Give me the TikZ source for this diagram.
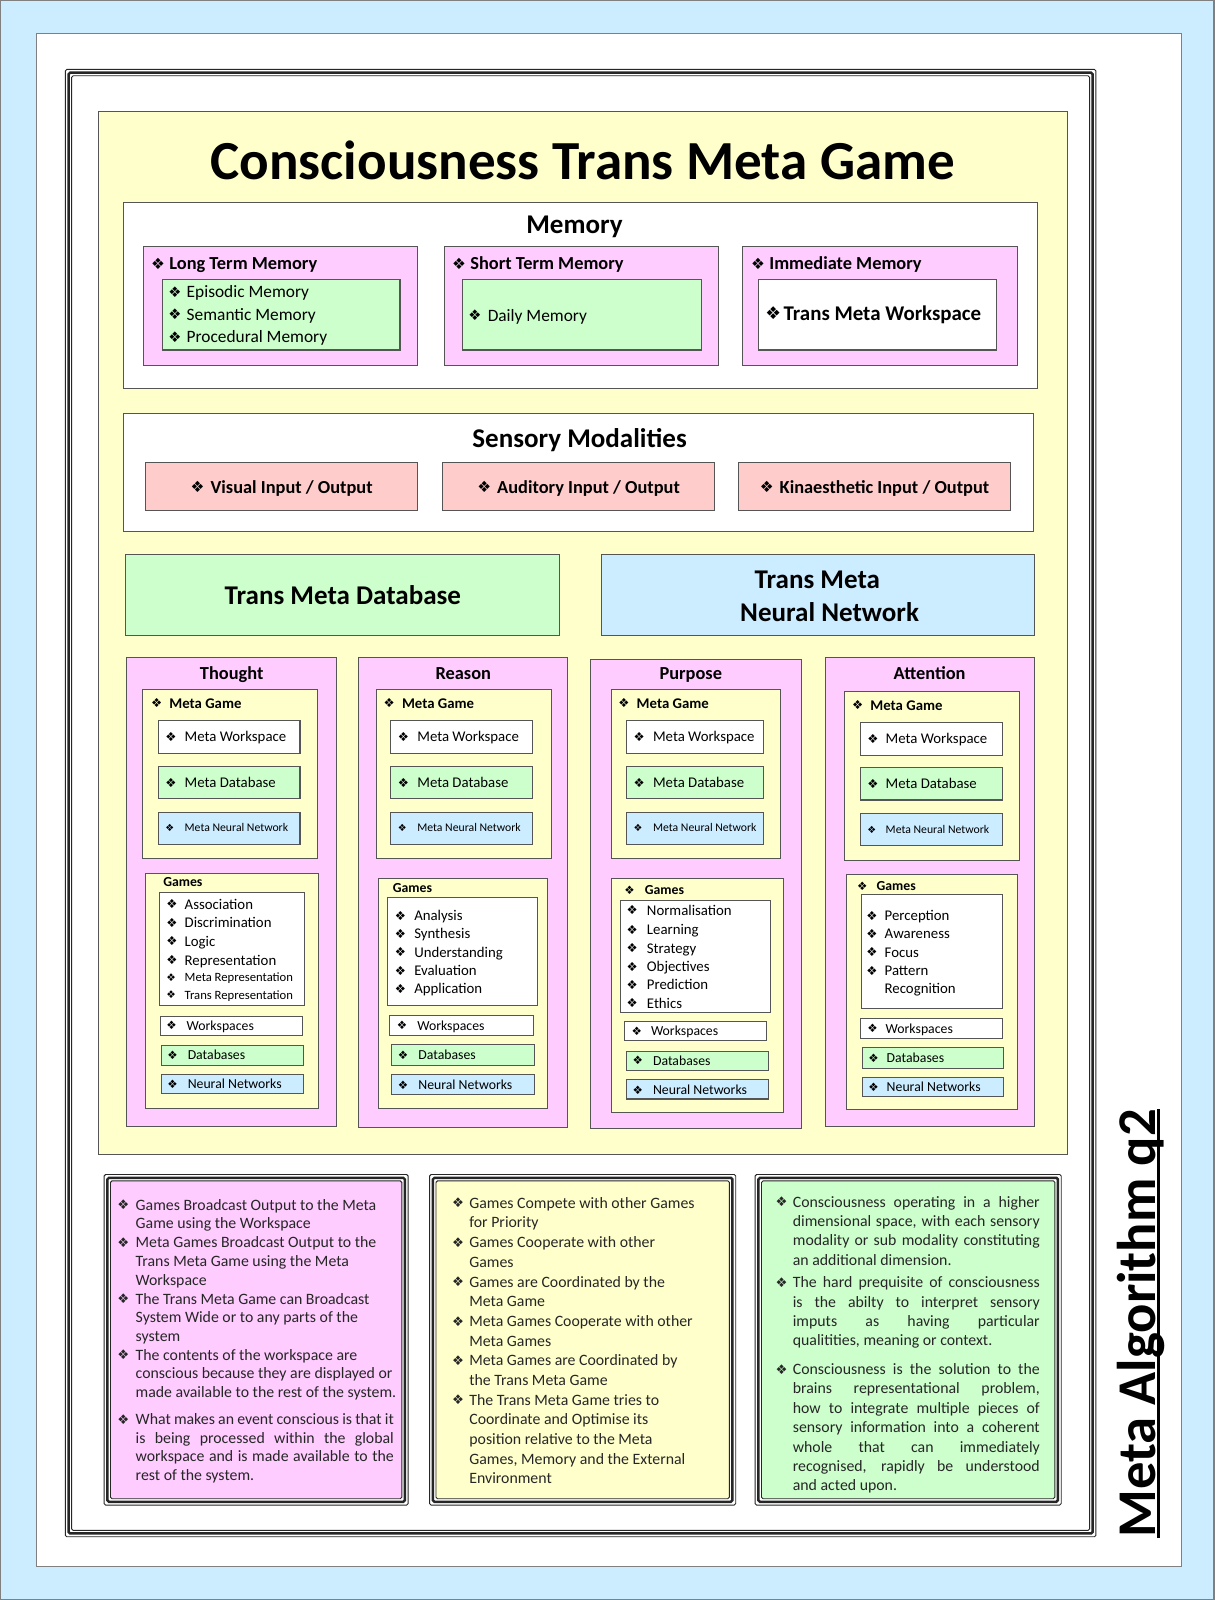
\documentclass[tikz,border=0pt]{standalone}
\usepackage{fontspec}
\usepackage{graphicx}
\setmainfont{Carlito}
\newfontfamily\djv{DejaVu Sans}
\definecolor{cblue}{HTML}{CCECFF}
\definecolor{cpink}{HTML}{FFCCFF}
\definecolor{cyel}{HTML}{FFFFCC}
\definecolor{cgreen}{HTML}{CCFFCC}
\definecolor{csalm}{HTML}{FFCCCC}
\definecolor{bordc}{HTML}{555555}
\definecolor{txtc}{HTML}{262626}
\newcommand\bul{{\djv\raisebox{0.03em}{\scalebox{0.84}{❖}}}}
\newcommand\Jp[1]{\makebox[253pt][s]{#1}}
\newcommand\Jg[1]{\makebox[242pt][s]{#1}}
\tikzset{
  bx/.style={draw=bordc,line width=1pt,inner sep=0pt,outer sep=0pt},
  txt/.style={inner sep=0pt,outer sep=0pt,text=black},
  frm/.style={draw=black!85,inner sep=0pt,outer sep=0pt,rounded corners=1.5pt},
  btxt/.style={inner sep=0pt,outer sep=0pt,text=txtc,align=left}
}
% box: name x1 y1 x2 y2 style
\newcommand\bx[6]{\node[bx,#6,minimum width={#4pt-#2pt},minimum height={#5pt-#3pt}] (#1) at ({(#2+#4)/2},{(#3+#5)/2}) {};}
% left text: name x y size series text
\newcommand\tl[6]{\node[txt,anchor=base west,font=\fontsize{#4}{#4}\selectfont#5] (#1) at (#2,{#3+0.35*#4}) {#6};}
% centred text
\newcommand\tc[6]{\node[txt,anchor=base,font=\fontsize{#4}{#4}\selectfont#5] (#1) at (#2,{#3+0.35*#4}) {#6};}
% bullet item: name xbullet xtext y size series text
\newcommand\li[7]{\node[txt,anchor=base west,font=\fontsize{#5}{#5}\selectfont#6] (#1) at (#2,{#4+0.35*#5}) {\makebox[\dimexpr#3pt-#2pt\relax][l]{\bul}#7};}
% bottom item: name xbullet xtext ybase font width lines
\newcommand\bi[7]{\node[btxt,anchor=base west,font=#5] (#1) at (#2,#4) {\makebox[\dimexpr#3pt-#2pt\relax][l]{\bul}\parbox[t]{#6pt}{\raggedright #7}};}
% triple frame: name x1 y1 x2 y2 fill
\newcommand\tfr[6]{%
 \node[frm,line width=0.9pt,minimum width={#4pt-#2pt},minimum height={#5pt-#3pt}] (#1a) at ({(#2+#4)/2},{(#3+#5)/2}) {};
 \node[frm,line width=2.4pt,minimum width={#4pt-#2pt-6.5pt},minimum height={#5pt-#3pt-6.5pt}] (#1b) at (#1a.center) {};
 \node[frm,line width=0.9pt,fill=#6,minimum width={#4pt-#2pt-12.5pt},minimum height={#5pt-#3pt-12.5pt}] (#1) at (#1a.center) {};}
\begin{document}
\begin{tikzpicture}[x=1pt,y=-1pt]
\useasboundingbox (0,0) rectangle (1190,1568);
\bx{page}{0}{0}{1190}{1568}{fill=cblue,draw=gray,line width=2pt}
\bx{wpage}{36}{33}{1158}{1535}{fill=white,draw=gray,line width=1pt}
\tfr{outer}{64}{68}{1074}{1506}{white}
\bx{main}{97}{109}{1046}{1131}{fill=cyel}
\tc{title}{571}{157}{54}{\bfseries}{Consciousness Trans Meta Game}
% Memory
\bx{mem}{121}{198}{1017}{381}{fill=white}
\tc{memt}{563}{220}{26.5}{\bfseries}{Memory}
\bx{ltm}{141}{242}{409}{358}{fill=cpink}
\li{ltmt}{148}{166}{258}{18}{\bfseries}{Long Term Memory}
\bx{ltmi}{159}{274}{392}{343}{fill=cgreen}
\li{ltm1}{165}{183}{286}{17}{\relax}{Episodic Memory}
\li{ltm2}{165}{183}{308}{17}{\relax}{Semantic Memory}
\li{ltm3}{165}{183}{330}{17}{\relax}{Procedural Memory}
\bx{stm}{436}{242}{704}{358}{fill=cpink}
\li{stmt}{443}{461}{258}{18}{\bfseries}{Short Term Memory}
\bx{stmi}{453}{274}{687}{343}{fill=cgreen}
\li{stm1}{459}{478}{309}{17}{\relax}{Daily Memory}
\bx{imm}{728}{242}{997}{358}{fill=cpink}
\li{immt}{736}{754}{258}{18}{\bfseries}{Immediate Memory}
\bx{immi}{743}{274}{977}{343}{fill=white}
\li{imm1}{750}{768}{307}{20.5}{\bfseries}{Trans Meta Workspace}
% Sensory
\bx{sens}{121}{405}{1013}{521}{fill=white}
\tc{senst}{568}{429}{26.5}{\bfseries}{Sensory Modalities}
\bx{vis}{143}{453}{409}{500}{fill=csalm}
\tc{vist}{276}{477}{18}{\bfseries}{\bul\hspace{6pt}Visual Input / Output}
\bx{aud}{434}{453}{700}{500}{fill=csalm}
\tc{audt}{567}{477}{18}{\bfseries}{\bul\hspace{6pt}Auditory Input / Output}
\bx{kin}{724}{453}{990}{500}{fill=csalm}
\tc{kint}{857}{477}{18}{\bfseries}{\bul\hspace{6pt}Kinaesthetic Input / Output}
% Database / NN
\bx{tmdb}{123}{543}{548}{623}{fill=cgreen}
\tc{tmdbt}{336}{583}{26.5}{\bfseries}{Trans Meta Database}
\bx{tmnn}{589}{543}{1014}{623}{fill=cblue}
\tc{tmnn1}{801}{567}{26.5}{\bfseries}{Trans Meta}
\tc{tmnn2}{813}{600}{26.5}{\bfseries}{Neural Network}
% ---------- Thought
\bx{th}{124}{644}{330}{1104}{fill=cpink}
\tc{tht}{227}{660}{18}{\bfseries}{Thought}
\bx{thmg}{140}{676}{311}{841}{fill=cyel}
\li{thmgt}{148}{166}{689}{14.5}{\bfseries}{Meta Game}
\bx{thmw}{155}{706}{294}{738}{fill=white}
\li{thmwt}{162}{181}{722}{14.5}{\relax}{Meta Workspace}
\bx{thmd}{155}{751}{294}{783}{fill=cgreen}
\li{thmdt}{162}{181}{767}{14.5}{\relax}{Meta Database}
\bx{thmn}{155}{796}{294}{828}{fill=cblue}
\li{thmnt}{162}{181}{811}{11.5}{\relax}{Meta Neural Network}
\bx{thg}{143}{856}{312}{1086}{fill=cyel}
\tl{thgt}{160}{864}{13.5}{\bfseries}{Games}
\bx{thl}{156}{875}{298}{985}{fill=white}
\li{thl1}{163}{181}{886}{14.5}{\relax}{Association}
\li{thl2}{163}{181}{904}{14.5}{\relax}{Discrimination}
\li{thl3}{163}{181}{922}{14.5}{\relax}{Logic}
\li{thl4}{163}{181}{941}{14.5}{\relax}{Representation}
\li{thl5}{163}{181}{958}{12.4}{\relax}{Meta Representation}
\li{thl6}{163}{181}{975}{12.4}{\relax}{Trans Representation}
\bx{thws}{157}{996}{296}{1015}{fill=white}
\li{thwst}{163}{183}{1005}{13.5}{\relax}{Workspaces}
\bx{thdb}{158}{1025}{297}{1044}{fill=cgreen}
\li{thdbt}{164}{184}{1034}{13.5}{\relax}{Databases}
\bx{thnn}{158}{1053}{297}{1072}{fill=cblue}
\li{thnnt}{164}{184}{1062}{13.5}{\relax}{Neural Networks}
% ---------- Reason
\bx{re}{351}{644}{556}{1105}{fill=cpink}
\tc{ret}{454}{660}{18}{\bfseries}{Reason}
\bx{remg}{369}{676}{540}{841}{fill=cyel}
\li{remgt}{376}{394}{689}{14.5}{\bfseries}{Meta Game}
\bx{remw}{383}{706}{522}{738}{fill=white}
\li{remwt}{390}{409}{722}{14.5}{\relax}{Meta Workspace}
\bx{remd}{383}{751}{522}{783}{fill=cgreen}
\li{remdt}{390}{409}{767}{14.5}{\relax}{Meta Database}
\bx{remn}{383}{796}{522}{828}{fill=cblue}
\li{remnt}{390}{409}{811}{11.5}{\relax}{Meta Neural Network}
\bx{reg}{371}{861}{537}{1086}{fill=cyel}
\tl{regt}{385}{870}{13.5}{\bfseries}{Games}
\bx{rel}{380}{880}{527}{985}{fill=white}
\li{rel1}{387}{406}{897}{14.5}{\relax}{Analysis}
\li{rel2}{387}{406}{915}{14.5}{\relax}{Synthesis}
\li{rel3}{387}{406}{933}{14.5}{\relax}{Understanding}
\li{rel4}{387}{406}{951}{14.5}{\relax}{Evaluation}
\li{rel5}{387}{406}{969}{14.5}{\relax}{Application}
\bx{rews}{382}{995}{523}{1015}{fill=white}
\li{rewst}{389}{409}{1005}{13.5}{\relax}{Workspaces}
\bx{redb}{384}{1024}{524}{1044}{fill=cgreen}
\li{redbt}{390}{410}{1034}{13.5}{\relax}{Databases}
\bx{renn}{384}{1053}{524}{1073}{fill=cblue}
\li{rennt}{390}{410}{1063}{13.5}{\relax}{Neural Networks}
% ---------- Purpose
\bx{pu}{579}{646}{785}{1106}{fill=cpink}
\tc{put}{677}{660}{18}{\bfseries}{Purpose}
\bx{pumg}{599}{676}{765}{841}{fill=cyel}
\li{pumgt}{606}{624}{689}{14.5}{\bfseries}{Meta Game}
\bx{pumw}{614}{706}{748}{738}{fill=white}
\li{pumwt}{621}{640}{722}{14.5}{\relax}{Meta Workspace}
\bx{pumd}{614}{751}{748}{783}{fill=cgreen}
\li{pumdt}{621}{640}{767}{14.5}{\relax}{Meta Database}
\bx{pumn}{614}{796}{748}{828}{fill=cblue}
\li{pumnt}{621}{640}{811}{11.5}{\relax}{Meta Neural Network}
\bx{pug}{599}{861}{768}{1090}{fill=cyel}
\li{pugt}{612}{632}{872}{13.5}{\bfseries}{Games}
\bx{pul}{608}{882}{755}{992}{fill=white}
\li{pul1}{614}{634}{892}{14.5}{\relax}{Normalisation}
\li{pul2}{614}{634}{911}{14.5}{\relax}{Learning}
\li{pul3}{614}{634}{929}{14.5}{\relax}{Strategy}
\li{pul4}{614}{634}{947}{14.5}{\relax}{Objectives}
\li{pul5}{614}{634}{965}{14.5}{\relax}{Prediction}
\li{pul6}{614}{634}{983}{14.5}{\relax}{Ethics}
\bx{puws}{612}{1001}{751}{1020}{fill=white}
\li{puwst}{619}{638}{1010}{13.5}{\relax}{Workspaces}
\bx{pudb}{614}{1030}{753}{1049}{fill=cgreen}
\li{pudbt}{620}{640}{1039}{13.5}{\relax}{Databases}
\bx{punn}{614}{1058}{753}{1077}{fill=cblue}
\li{punnt}{620}{640}{1068}{13.5}{\relax}{Neural Networks}
% ---------- Attention
\bx{at}{809}{644}{1014}{1104}{fill=cpink}
\tc{att}{911}{660}{18}{\bfseries}{Attention}
\bx{atmg}{828}{678}{999}{843}{fill=cyel}
\li{atmgt}{835}{853}{691}{14.5}{\bfseries}{Meta Game}
\bx{atmw}{843}{708}{982}{740}{fill=white}
\li{atmwt}{850}{868}{724}{14.5}{\relax}{Meta Workspace}
\bx{atmd}{843}{752}{982}{784}{fill=cgreen}
\li{atmdt}{850}{868}{768}{14.5}{\relax}{Meta Database}
\bx{atmn}{843}{797}{982}{829}{fill=cblue}
\li{atmnt}{850}{868}{813}{11.5}{\relax}{Meta Neural Network}
\bx{atg}{830}{857}{997}{1087}{fill=cyel}
\li{atgt}{840}{859}{868}{13.5}{\bfseries}{Games}
\bx{atl}{844}{877}{982}{988}{fill=white}
\li{atl1}{849}{867}{897}{14.5}{\relax}{Perception}
\li{atl2}{849}{867}{915}{14.5}{\relax}{Awareness}
\li{atl3}{849}{867}{933}{14.5}{\relax}{Focus}
\li{atl4}{849}{867}{951}{14.5}{\relax}{Pattern}
\tl{atl5}{867}{969}{14.5}{\relax}{Recognition}
\bx{atws}{843}{998}{982}{1018}{fill=white}
\li{atwst}{850}{868}{1008}{13.5}{\relax}{Workspaces}
\bx{atdb}{845}{1027}{983}{1047}{fill=cgreen}
\li{atdbt}{851}{869}{1037}{13.5}{\relax}{Databases}
\bx{atnn}{845}{1056}{983}{1075}{fill=cblue}
\li{atnnt}{851}{869}{1065}{13.5}{\relax}{Neural Networks}
% ---------- bottom boxes
\tfr{pinkbox}{102}{1151}{400}{1475}{cpink}
\bi{pb1}{115}{133}{1186}{\fontsize{15.5}{18.4}\selectfont}{262}{Games Broadcast Output to the Meta\\Game using the Workspace}
\bi{pb2}{115}{133}{1223}{\fontsize{15.5}{18.4}\selectfont}{262}{Meta Games Broadcast Output to the\\Trans Meta Game using the Meta\\Workspace}
\bi{pb3}{115}{133}{1278}{\fontsize{15.5}{18.4}\selectfont}{262}{The Trans Meta Game can Broadcast\\System Wide or to any parts of the\\system}
\bi{pb4}{115}{133}{1333}{\fontsize{15.5}{18.4}\selectfont}{262}{The contents of the workspace are\\conscious because they are displayed or\\made available to the rest of the system.}
\bi{pb5}{115}{133}{1396}{\fontsize{15.5}{18.2}\selectfont}{262}{\Jp{What makes an event conscious is that it}\\\Jp{is being processed within the global}\\\Jp{workspace and is made available to the}\\rest of the system.}
\tfr{yelbox}{421}{1151}{721}{1475}{cyel}
\bi{yb1}{443}{460}{1184}{\fontsize{15.5}{19.3}\selectfont}{260}{Games Compete with other Games\\for Priority}
\bi{yb2}{443}{460}{1223}{\fontsize{15.5}{19.3}\selectfont}{260}{Games Cooperate with other\\Games}
\bi{yb3}{443}{460}{1261.5}{\fontsize{15.5}{19.3}\selectfont}{260}{Games are Coordinated by the\\Meta Game}
\bi{yb4}{443}{460}{1300}{\fontsize{15.5}{19.3}\selectfont}{260}{Meta Games Cooperate with other\\Meta Games}
\bi{yb5}{443}{460}{1338.5}{\fontsize{15.5}{19.3}\selectfont}{260}{Meta Games are Coordinated by\\the Trans Meta Game}
\bi{yb6}{443}{460}{1377}{\fontsize{15.5}{19.3}\selectfont}{260}{The Trans Meta Game tries to\\Coordinate and Optimise its\\position relative to the Meta\\Games, Memory and the External\\Environment}
\tfr{grnbox}{740}{1151}{1040}{1475}{cgreen}
\bi{gb1}{760}{777}{1183}{\fontsize{15.5}{19}\selectfont}{250}{\Jg{Consciousness operating in a higher}\\\Jg{dimensional space, with each sensory}\\\Jg{modality or sub modality constituting}\\an additional dimension.}
\bi{gb2}{760}{777}{1262}{\fontsize{15.5}{19}\selectfont}{250}{\Jg{The hard prequisite of consciousness}\\\Jg{is the abilty to interpret sensory}\\\Jg{imputs as having particular}\\qualitities, meaning or context.}
\bi{gb3}{760}{777}{1347}{\fontsize{15.5}{19}\selectfont}{250}{\Jg{Consciousness is the solution to the}\\\Jg{brains representational problem,}\\\Jg{how to integrate multiple pieces of}\\\Jg{sensory information into a coherent}\\\Jg{whole that can immediately}\\\Jg{recognised, rapidly be understood}\\and acted upon.}
% side title
\node[txt,rotate=90,anchor=base,font=\fontsize{53.5}{53.5}\selectfont\bfseries] (side) at (1132,1297) {\setbox0\hbox{Meta Algorithm q2}\rlap{\rule[-5pt]{\wd0}{3.5pt}}\box0};
\end{tikzpicture}
\end{document}
